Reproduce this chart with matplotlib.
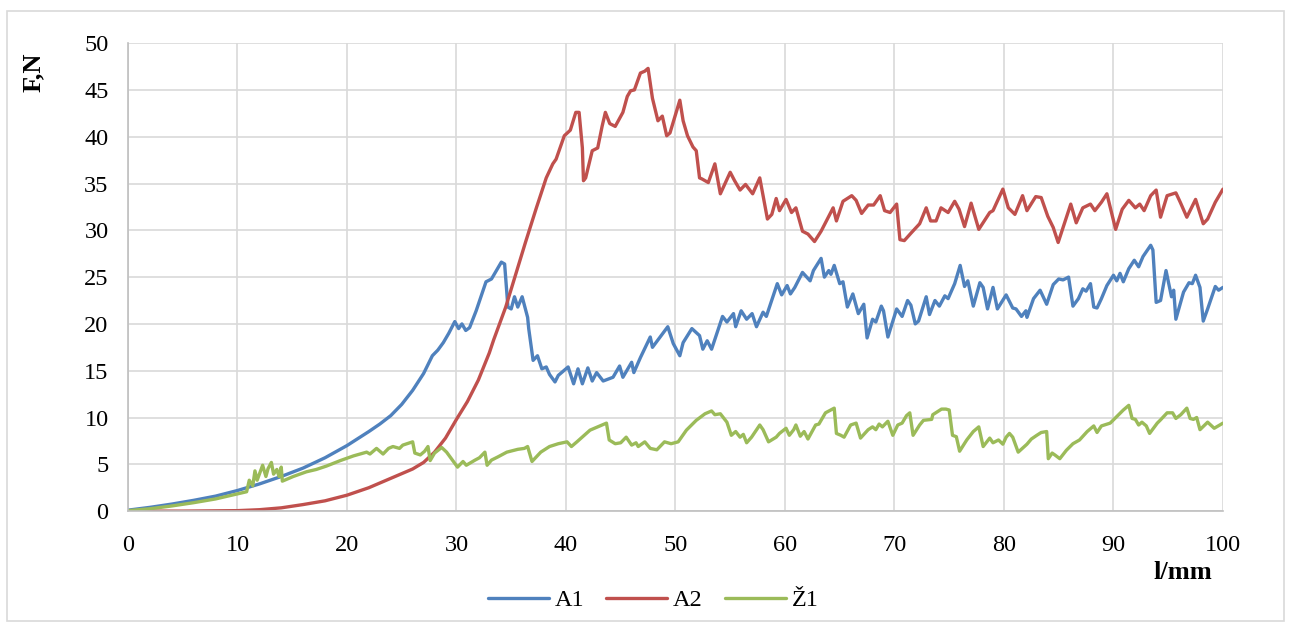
import matplotlib
matplotlib.use('Agg')
import matplotlib.pyplot as plt
from matplotlib.patches import Rectangle

# valores (l/mm, F/N)
a1_x = [0, 2, 4, 6, 8, 10, 12, 14, 16, 18, 20, 22, 23, 24, 25, 26, 27, 27.8, 28.3, 28.8, 29.3,
        29.85, 30.2, 30.5, 30.85, 31.2, 31.8, 32.7, 33.2, 34.1, 34.4, 34.7, 35.0, 35.3, 35.6, 36.0,
        36.5, 36.6, 37.0, 37.4, 37.8, 38.2, 38.5, 39.0, 39.3, 40.2, 40.7, 41.1, 41.5, 42.0, 42.4,
        42.8, 43.4, 44.3, 44.9, 45.2, 46.0, 46.2, 46.8, 47.7, 47.9, 48.6, 49.3, 49.8, 50.4, 50.7,
        51.5, 52.2, 52.5, 52.9, 53.3, 54.3, 54.7, 55.3, 55.5, 56.0, 56.5, 57.0, 57.4, 58.0, 58.3,
        59.3, 59.7, 60.2, 60.5, 60.9, 61.6, 62.3, 62.6, 63.3, 63.6, 64.0, 64.2, 64.5, 65.0, 65.3,
        65.7, 66.2, 66.7, 67.2, 67.5, 68.0, 68.3, 68.8, 69.0, 69.4, 70.2, 70.7, 71.2, 71.5, 71.9,
        72.2, 72.9, 73.2, 73.7, 74.1, 74.6, 74.9, 75.5, 76.0, 76.4, 76.7, 77.2, 77.8, 78.1, 78.5,
        79.0, 79.4, 80.2, 80.8, 81.1, 81.6, 82.0, 82.1, 82.7, 83.3, 83.9, 84.5, 85.0, 85.4, 85.9,
        86.3, 86.8, 87.2, 87.5, 87.9, 88.2, 88.5, 88.9, 89.4, 90.0, 90.3, 90.6, 90.9, 91.4, 91.9,
        92.3, 92.7, 93.4, 93.6, 93.9, 94.3, 94.8, 95.3, 95.5, 95.7, 96.4, 96.9, 97.2, 97.5, 97.9,
        98.2, 98.6, 99.3, 99.6, 100]
a1_y = [0.1, 0.4, 0.75, 1.15, 1.6, 2.2, 2.9, 3.7, 4.6, 5.7, 7.0, 8.5, 9.3, 10.2, 11.4, 12.9, 14.7, 16.6, 17.2, 18.0, 19.0,
        20.25, 19.5, 20.0, 19.3, 19.6, 21.4, 24.5, 24.8, 26.6, 26.4, 21.8, 21.6, 22.9, 21.8, 22.9,
        20.7, 19.5, 16.1, 16.6, 15.2, 15.4, 14.6, 13.8, 14.5, 15.4, 13.6, 15.2, 13.6, 15.3, 13.9,
        14.8, 13.9, 14.3, 15.5, 14.3, 15.9, 14.8, 16.4, 18.6, 17.5, 18.6, 19.7, 17.9, 16.6, 18.0,
        19.5, 18.75, 17.3, 18.2, 17.3, 20.8, 20.2, 21.1, 19.7, 21.4, 20.5, 21.1, 19.7, 21.25, 20.8,
        24.3, 23.1, 24.1, 23.2, 23.9, 25.5, 24.6, 25.7, 27.0, 25.0, 25.7, 25.3, 26.25, 24.3, 24.5,
        21.8, 23.2, 21.1, 22.1, 18.5, 20.5, 20.2, 21.9, 21.4, 18.6, 21.6, 20.8, 22.5, 22.0, 20.0,
        20.3, 22.9, 21.0, 22.5, 21.9, 23.0, 22.7, 24.3, 26.25, 24.0, 24.6, 21.9, 24.4, 23.9, 21.6,
        23.9, 21.6, 23.1, 21.7, 21.6, 20.8, 21.4, 20.7, 22.7, 23.6, 22.1, 24.2, 24.8, 24.7, 25.0,
        21.9, 22.7, 23.75, 23.5, 24.3, 21.8, 21.7, 22.7, 24.1, 25.2, 24.6, 25.4, 24.5, 25.9, 26.8,
        26.1, 27.2, 28.4, 27.9, 22.3, 22.5, 25.7, 22.9, 23.6, 20.5, 23.4, 24.4, 24.3, 25.2, 23.9,
        20.3, 21.6, 24.0, 23.6, 23.9]

a2_x = [0, 5, 10, 12, 14, 16, 18, 20, 22, 24, 26, 27, 28, 29, 30, 31, 32, 33, 33.4, 34.5,
        36.3, 37.3, 38.2, 38.8, 39.1, 39.85, 40.4, 40.9, 41.2, 41.5, 41.6, 41.8, 42.4, 42.9, 43.3,
        43.6, 44.0, 44.5, 45.2, 45.6, 45.9, 46.25, 46.8, 47.2, 47.5, 47.9, 48.4, 48.8, 49.2, 49.5,
        50.4, 50.7, 51.1, 51.6, 51.9, 52.2, 52.4, 53.0, 53.6, 54.1, 55.0, 55.4, 55.9, 56.4, 57.05,
        57.7, 58.4, 58.8, 59.2, 59.5, 60.1, 60.6, 61.0, 61.6, 62.1, 62.7, 63.3, 64.4, 64.7, 65.3,
        66.1, 66.5, 67.0, 67.6, 68.1, 68.7, 69.1, 69.6, 70.2, 70.5, 70.9, 71.55, 72.3, 72.9, 73.3,
        73.8, 74.25, 74.9, 75.5, 75.9, 76.4, 77.0, 77.7, 78.7, 79.0, 79.9, 80.4, 81.0, 81.7, 82.1,
        82.9, 83.4, 84.0, 84.5, 84.95, 85.4, 86.1, 86.6, 87.2, 87.9, 88.3, 88.9, 89.4, 90.2, 90.8,
        91.4, 92.0, 92.4, 92.8, 93.4, 93.9, 94.3, 94.9, 95.7, 96.1, 96.7, 97.5, 98.2, 98.6, 99.3,
        100]
a2_y = [0, 0, 0.05, 0.15, 0.35, 0.7, 1.1, 1.7, 2.5, 3.5, 4.5, 5.2, 6.3, 7.8, 9.8, 11.7, 14.0, 16.9, 18.3, 21.8,
        28.7, 32.4, 35.6, 37.1, 37.6, 40.1, 40.7, 42.6, 42.6, 38.8, 35.3, 35.6, 38.5, 38.8, 41.1,
        42.6, 41.4, 41.1, 42.6, 44.3, 44.9, 45.0, 46.8, 47.0, 47.3, 44.1, 41.7, 42.2, 40.1, 40.4,
        43.9, 41.7, 40.1, 38.9, 38.5, 35.6, 35.5, 35.1, 37.1, 33.9, 36.2, 35.3, 34.3, 34.9, 33.9,
        35.6, 31.2, 31.7, 33.4, 32.1, 33.3, 31.9, 32.4, 29.9, 29.6, 28.8, 29.9, 32.4, 31.0, 33.1,
        33.7, 33.2, 31.8, 32.7, 32.7, 33.7, 32.1, 31.9, 32.8, 29.0, 28.9, 29.75, 30.7, 32.4, 31.0,
        31.0, 32.4, 31.9, 33.1, 32.25, 30.4, 32.9, 30.1, 31.9, 32.1, 34.4, 32.4, 31.7, 33.7, 32.1,
        33.6, 33.5, 31.5, 30.3, 28.7, 30.3, 32.8, 30.8, 32.4, 32.8, 32.1, 33.0, 33.9, 30.1, 32.25,
        33.2, 32.4, 32.8, 32.1, 33.7, 34.3, 31.4, 33.7, 34.0, 33.0, 31.4, 33.3, 30.7, 31.2, 33.0,
        34.4]

z1_x = [0, 2, 4, 6, 8, 10, 10.7, 10.84, 11.08, 11.4, 11.6, 11.8, 12.3, 12.6, 12.8, 13.1, 13.3, 13.6,
        13.8, 14.0, 14.1, 15.1, 16.3, 17.2, 18.1, 19.4, 20.6, 21.8, 22.1, 22.7, 23.3, 23.8, 24.2,
        24.8, 25.1, 25.75, 26.0, 26.2, 26.7, 27.1, 27.4, 27.6, 28.0, 28.65, 29.1, 29.6, 30.1, 30.6,
        30.9, 31.7, 32.1, 32.6, 32.8, 33.2, 33.8, 34.6, 35.6, 36.2, 36.5, 36.9, 37.7, 38.5, 39.3,
        40.1, 40.5, 41.0, 42.2, 43.7, 43.95, 44.5, 45.0, 45.5, 46.0, 46.4, 46.6, 47.2, 47.7, 48.3,
        49.0, 49.6, 50.25, 51.0, 51.9, 52.7, 53.3, 53.6, 54.1, 54.7, 55.1, 55.5, 55.9, 56.2, 56.5,
        56.95, 57.7, 58.0, 58.5, 59.2, 59.5, 60.1, 60.4, 60.8, 61.0, 61.4, 61.75, 62.1, 62.8, 63.1,
        63.7, 64.5, 64.7, 65.1, 65.4, 66.0, 66.5, 66.9, 67.6, 68.0, 68.3, 68.6, 68.9, 69.4, 69.85,
        70.3, 70.7, 71.1, 71.4, 71.7, 72.3, 72.65, 73.05, 73.4, 73.5, 74.3, 74.7, 75.0, 75.3, 75.65,
        75.95, 76.6, 77.2, 77.7, 78.1, 78.7, 79.0, 79.5, 79.9, 80.2, 80.5, 80.8, 81.3, 82.1, 82.5,
        83.0, 83.4, 83.9, 84.05, 84.4, 84.65, 85.1, 85.7, 86.3, 86.9, 87.6, 88.2, 88.5, 88.9, 89.7,
        90.3, 90.9, 91.4, 91.7, 92.0, 92.3, 92.6, 93.0, 93.3, 94.0, 94.3, 94.9, 95.4, 95.7, 96.15,
        96.7, 97.0, 97.3, 97.6, 97.9, 98.6, 99.2, 100]
z1_y = [0.05, 0.25, 0.55, 0.9, 1.3, 1.85, 2.05, 2.07, 3.3, 2.7, 4.3, 3.3, 4.9, 3.7, 4.55, 5.2, 3.95, 4.45,
        3.7, 4.7, 3.2, 3.7, 4.2, 4.45, 4.8, 5.4, 5.9, 6.3, 6.1, 6.7, 6.1, 6.7, 6.9,
        6.7, 7.05, 7.3, 7.4, 6.2, 6.0, 6.4, 6.9, 5.4, 6.2, 6.8, 6.3, 5.5, 4.7, 5.3,
        4.9, 5.45, 5.7, 6.3, 4.9, 5.45, 5.8, 6.3, 6.6, 6.7, 6.9, 5.3, 6.3, 6.9, 7.2,
        7.4, 6.9, 7.4, 8.65, 9.4, 7.6, 7.2, 7.3, 7.9, 7.05, 7.3, 6.9, 7.4, 6.7, 6.55,
        7.4, 7.2, 7.4, 8.65, 9.7, 10.4, 10.7, 10.3, 10.4, 9.5, 8.1, 8.5, 7.9, 8.2, 7.3,
        7.9, 9.2, 8.7, 7.4, 7.9, 8.3, 8.85, 8.1, 8.7, 9.2, 8.0, 8.5, 7.7, 9.2, 9.3,
        10.5, 11.0, 8.3, 8.1, 7.9, 9.2, 9.4, 7.8, 8.7, 9.0, 8.7, 9.3, 9.0, 9.6, 8.1,
        9.2, 9.4, 10.2, 10.5, 8.1, 9.2, 9.7, 9.75, 9.8, 10.3, 10.9, 10.9, 10.8, 8.1, 7.95,
        6.4, 7.6, 8.5, 9.0, 6.9, 7.8, 7.3, 7.6, 7.15, 7.9, 8.3, 7.9, 6.3, 7.15, 7.7,
        8.1, 8.4, 8.5, 5.6, 6.2, 6.0, 5.6, 6.5, 7.2, 7.6, 8.5, 9.1, 8.4, 9.1, 9.4,
        10.1, 10.8, 11.3, 9.9, 9.8, 9.2, 9.5, 9.1, 8.3, 9.4, 9.75, 10.5, 10.5, 9.9, 10.3,
        11.0, 9.9, 9.8, 10.0, 8.7, 9.5, 8.85, 9.4]

series = ['A1', 'A2', 'Ž1']
cores = ['#4F81BD', '#C0504D', '#9BBB59']
x_ticks = list(range(0, 101, 10))
y_ticks = list(range(0, 51, 5))

plt.rcParams['font.family'] = ['Liberation Serif', 'DejaVu Serif']

fig = plt.figure(figsize=(12.91, 6.31), dpi=100)
ax = fig.add_axes([0.0991, 0.190, 0.8482, 0.7417])

for nome, cor, xs, ys in zip(series, cores, [a1_x, a2_x, z1_x], [a1_y, a2_y, z1_y]):
    ax.plot(xs, ys, color=cor, lw=2.4, label=nome,
            solid_joinstyle='round', solid_capstyle='round')

ax.set_xlim(0, 100)
ax.set_ylim(0, 50)
ax.set_xticks(x_ticks)
ax.set_yticks(y_ticks)
ax.grid(True, color='#D9D9D9', lw=1.2)
ax.set_axisbelow(True)
ax.tick_params(length=0, labelsize=17.5)
ax.tick_params(axis='x', pad=17)
ax.tick_params(axis='y', pad=14)
for s in ['top', 'right']:
    ax.spines[s].set_visible(False)
for s in ['left', 'bottom']:
    ax.spines[s].set_color('#BFBFBF')
    ax.spines[s].set_linewidth(1.2)

fig.text(0.026, 0.886, 'F,N', rotation=90, ha='center', va='center',
         fontsize=19, fontweight='bold')
fig.text(0.939, 0.0935, 'l/mm', ha='right', va='center',
         fontsize=19, fontweight='bold')

fig.legend(loc='center', bbox_to_anchor=(0.506, 0.049), ncol=3, frameon=False,
           fontsize=17.5, handlelength=2.5, handletextpad=0.25, columnspacing=0.9)

fig.patches.append(Rectangle((0.0058, 0.016), 0.9884, 0.966, transform=fig.transFigure,
                             fill=False, edgecolor='#D9D9D9', lw=1.2))

plt.savefig('out.png', dpi=100)
